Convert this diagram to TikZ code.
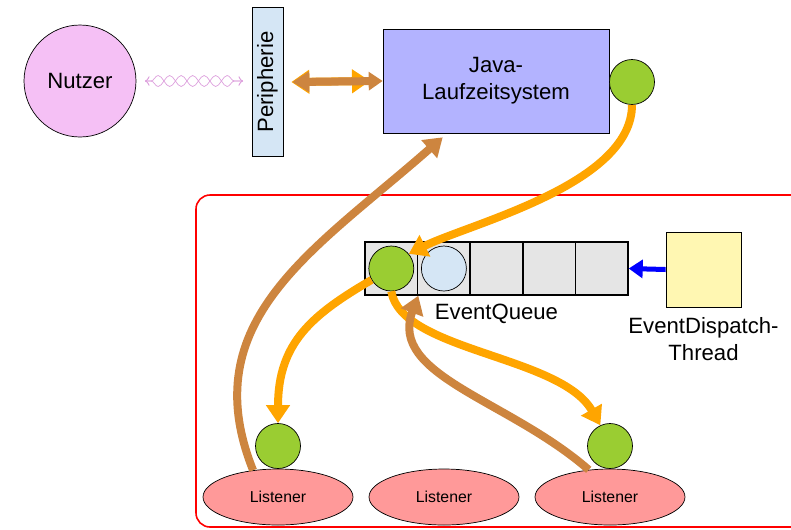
\documentclass[tikz,border=0pt]{standalone}
\usepackage{fontspec}
\setmainfont{Liberation Sans}
\usepackage{tikz}
\usetikzlibrary{positioning}
\usetikzlibrary{arrows.meta}
\usetikzlibrary{shapes.geometric}
\usetikzlibrary{decorations.pathmorphing}

\definecolor{nutzerpink}{RGB}{245,192,245}
\definecolor{periblue}{RGB}{213,230,245}
\definecolor{javablue}{RGB}{179,179,255}
\definecolor{evgreen}{RGB}{154,205,50}
\definecolor{queuegray}{RGB}{229,229,229}
\definecolor{threadyellow}{RGB}{255,247,178}
\definecolor{listenerred}{RGB}{255,153,153}
\definecolor{callbrown}{RGB}{205,133,63}
\definecolor{evorange}{RGB}{255,165,0}
\definecolor{wavelila}{RGB}{221,160,221}

\tikzset{
  evt/.style={circle, draw, fill=evgreen, minimum size=0.9cm, inner sep=0pt},
  cell/.style={rectangle, draw, thick, fill=queuegray, minimum width=1.052cm, minimum height=1.06cm, inner sep=0pt},
  listener/.style={ellipse, draw, fill=listenerred, minimum width=3cm, minimum height=1.12cm, font=\fontsize{9}{10}\selectfont},
  flow/.style={evorange, line width=0.16cm, -{Triangle[length=0.36cm,width=0.46cm]}},
  call/.style={callbrown, line width=0.16cm, -{Triangle[length=0.36cm,width=0.46cm]}},
  wave/.style={wavelila, thin, decorate, decoration={snake, amplitude=0.11cm, segment length=0.46cm, pre length=0.12cm, post length=0.12cm}}
}

\begin{document}
\begin{tikzpicture}[x=0.02cm, y=-0.02cm, font=\fontsize{12.6}{15.5}\selectfont]
\useasboundingbox (0,0) rectangle (791,529);

\node[circle, draw, fill=nutzerpink, minimum size=2.24cm] (nutzer) at (80,81) {Nutzer};
\node[draw, fill=periblue, rotate=90, minimum width=2.98cm, minimum height=0.62cm, inner sep=0pt] (peri) at (267.5,82) {Peripherie};
\node[draw, fill=javablue, minimum width=4.52cm, minimum height=2.08cm, align=center] (java) at (496,81) {Java-\\Laufzeitsystem};
\node[evt] (jvt) at (632,82) {};

\coordinate (w1) at (145,81);
\coordinate (w2) at (243,81);
\draw[wave, <->] (w1) -- (w2);
\draw[wave, decoration={mirror}, <->] (w1) -- (w2);

\draw[evorange, line width=0.16cm, {Triangle[length=0.36cm,width=0.46cm]}-{Triangle[length=0.36cm,width=0.46cm]}] (peri.south) ++(8,0) coordinate (pa) -- (java.west -| 370,0);
\draw[callbrown, line width=0.16cm, {Triangle[length=0.34cm,width=0.4cm]}-{Triangle[length=0.28cm,width=0.36cm]}] (pa) ++(1,0) -- (java.west);

% Ereignisbehandlung
\draw[red, line width=0.9pt, rounded corners=8] (196,527) rectangle (820,195);

\foreach \i in {1,...,5}{
\node[cell] (q\i) at ({365+52.6*(\i-0.5)},268.5) {};
}
\node[evt] (qe) at (q1) {};
\node[evt, fill=periblue] (qn) at (q2) {};
\node[below=0.05cm of q3] (qlabel) {EventQueue};

\node[draw, fill=threadyellow, minimum width=1.5cm, minimum height=1.5cm] (thread) at (703.5,269.5) {};
\node[below=0.08cm of thread, align=center] (tlabel) {EventDispatch-\\Thread};
\draw[blue, line width=0.1cm, -{Triangle[length=0.28cm,width=0.36cm]}] (thread.west) -- (q5.east);

\foreach \x/\n in {278/1, 444/2, 610/3}{
\node[listener] (l\n) at (\x,497) {Listener};
}
\node[evt] (l1e) at (278,446) {};
\node[evt] (l3e) at (610,446) {};

\draw[flow] (jvt.south) .. controls +(0,80) and +(60,-30) .. (qe.40);
\draw[flow] (qe.210) .. controls +(-60,35) and +(0,-80) .. (l1e.north);
\draw[flow] (qe.south) .. controls +(10,60) and +(-40,-70) .. (l3e.115);

\draw[call, shorten >=0.12cm] (l1.133) .. controls +(-60,-150) and +(-133,117) .. (java.-133);
\draw[call] (l3.128) .. controls +(-80,-70) and +(-30,80) .. (q1.south east);
\end{tikzpicture}
\end{document}
